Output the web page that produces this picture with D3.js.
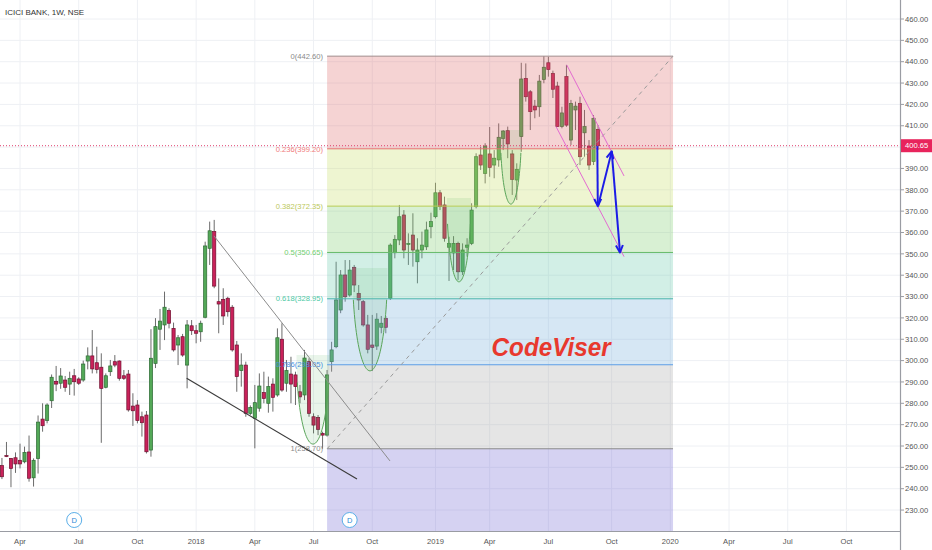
<!DOCTYPE html>
<html><head><meta charset="utf-8">
<script src="https://cdn.jsdelivr.net/npm/d3@7"></script>
<style>
html,body{margin:0;padding:0;background:#fff;}
svg{display:block;font-family:"Liberation Sans",Arial,sans-serif;}
</style></head><body>
<svg id="c" width="932" height="550"></svg>
<script>
// ---------- DATA ----------
const title = "ICICI BANK, 1W, NSE";
const firstWeek = "2017-03-06"; // weekly bars, Monday dated
const opens = [250.8,255.5,254.2,254.5,253.3,252.6,257.2,245.1,254.2,272.6,271.9,281.2,290.3,289.4,290.9,289.0,292.9,291.4,290.9,299.8,
302.2,299.0,296.9,287.5,294.8,299.5,299.8,292.9,293.7,278.7,279.2,273.7,274.5,258.1,298.7,314.7,316.7,323.4,315.1,307.3,
311.2,297.9,316.3,314.0,313.5,320.3,352.6,360.4,327.6,328.7,329.2,325.0,307.3,295.3,297.9,275.3,273.0,277.7,285.0,280.0,
289.0,283.9,310.0,289.4,293.7,293.3,285.4,283.9,299.5,273.7,273.4,265.9,265.1,299.5,306.5,323.7,340.1,330.7,343.7,331.5,
327.6,316.7,307.3,306.8,315.6,319.8,329.2,350.5,356.5,368.2,354.6,358.8,346.3,351.8,353.3,362.7,367.4,378.6,372.9,353.1,
350.4,354.9,341.6,353.1,354.9,372.1,396.3,387.7,396.8,391.6,394.0,404.1,407.7,396.8,384.6,404.9,432.2,425.9,419.2,418.9,
431.7,439.5,434.5,428.6,409.6,433.0,403.3,417.4,420.5,406.7,400.5,393.2,408.3];
const highs = [254.4,261.9,254.4,257.0,261.1,259.7,264.9,254.2,274.3,280.0,280.0,293.5,297.5,296.5,292.8,294.8,296.1,292.2,300.0,306.2,
314.3,306.5,303.4,294.0,300.3,302.6,300.1,295.6,295.6,284.7,281.5,276.1,276.4,314.7,319.9,324.2,332.3,324.5,317.8,312.0,
312.5,319.0,319.0,316.7,318.7,355.7,365.1,365.9,338.5,333.9,329.9,326.0,309.2,303.4,299.5,279.0,288.6,294.0,294.8,292.5,
291.7,315.1,317.5,300.3,301.8,294.8,288.6,305.0,301.1,275.3,274.5,266.7,295.6,308.8,346.3,342.4,347.1,347.1,344.8,335.4,
328.4,321.4,321.4,322.2,320.9,320.9,354.9,358.8,372.9,370.5,359.6,369.0,357.3,360.4,365.1,369.3,383.3,379.9,376.8,358.0,
358.3,355.7,354.9,357.3,373.7,397.1,400.2,401.8,409.4,398.6,411.1,408.0,409.6,398.6,392.4,439.5,439.2,426.7,422.1,433.8,
442.6,442.3,435.8,430.6,418.9,438.5,422.1,421.3,423.6,417.4,403.3,415.0,410.3];
const lows = [244.5,254.8,240.7,247.4,249.5,251.9,243.3,241.0,247.1,266.7,270.6,277.8,285.7,286.8,285.4,283.9,283.6,288.6,290.1,295.9,
294.0,294.0,261.5,287.0,292.8,296.9,290.6,290.9,276.1,269.4,270.6,264.4,256.5,255.0,296.5,305.0,309.6,315.1,304.2,297.9,
301.8,287.0,312.0,308.1,308.8,319.8,344.8,333.9,312.8,316.7,320.6,304.2,285.4,287.8,273.7,274.5,258.9,276.1,280.0,275.6,
276.1,283.1,285.4,285.4,280.0,279.2,280.0,281.5,273.7,265.9,265.1,258.7,264.4,294.8,305.8,322.2,327.6,329.9,332.1,323.7,
315.9,303.4,295.1,305.0,312.8,312.8,328.4,347.9,354.1,347.9,344.8,344.0,336.2,347.9,351.8,357.3,366.6,370.5,355.7,337.3,
342.4,337.8,340.1,348.7,354.1,371.3,389.3,383.0,386.1,385.4,390.8,398.6,394.8,377.6,375.2,397.8,421.3,408.0,413.5,414.2,
429.9,433.0,423.0,409.5,408.8,409.5,401.0,408.0,391.6,395.5,389.3,391.6,398.6];
const closes = [245.6,255.2,249.5,251.6,251.6,257.0,244.9,253.3,271.2,269.5,279.2,292.2,289.0,292.8,287.5,291.7,290.1,289.4,298.4,302.2,
296.1,295.9,287.0,292.9,297.5,297.9,291.7,291.7,276.9,276.5,271.9,270.9,257.3,301.1,315.9,318.5,325.0,317.5,305.0,310.7,
302.6,316.7,314.0,312.8,317.5,353.7,360.8,334.9,326.5,320.9,322.9,305.0,292.5,297.9,275.3,278.1,280.3,288.1,282.3,287.8,
282.8,310.7,286.2,295.3,289.0,287.8,283.0,301.2,275.3,269.8,267.8,265.1,293.3,305.0,328.4,340.1,329.9,342.4,335.4,328.4,
316.7,305.3,306.2,319.4,317.5,315.6,354.1,356.8,367.4,351.8,354.9,351.8,351.8,354.1,361.2,365.1,378.6,372.1,357.3,354.9,
354.9,341.6,351.8,354.1,370.5,395.5,391.6,400.5,390.5,394.8,404.6,407.5,401.5,384.9,389.6,431.9,423.6,416.6,417.4,430.9,
437.4,436.3,427.1,409.6,416.0,410.3,420.5,419.2,395.5,409.6,391.6,413.5,400.65];
const lastPrice = 400.65;
const priceTicks = d3.range(230, 461, 10);
const timeTickMonths = ["2017-04","2017-07","2017-10","2018-01","2018-04","2018-07","2018-10","2019-01","2019-04","2019-07","2019-10","2020-01","2020-04","2020-07","2020-10"];
const timeTickLabels = ["Apr","Jul","Oct","2018","Apr","Jul","Oct","2019","Apr","Jul","Oct","2020","Apr","Jul","Oct"];
const fibLevels = [0, 0.236, 0.382, 0.5, 0.618, 0.786, 1];
const fibPrices = [442.60, 399.20, 372.35, 350.65, 328.95, 298.05, 258.70];
const fibExtPrice = 145.05; // 1.618 level
const fibBarRange = [72, 148.6];        // bar positions of the fib box
const dividendBars = [16, 77];
// annotations: [bar, price]
const wedgeUpper = [[46.96, 358.4], [85.93, 253.0]];
const wedgeLower = [[40.9, 291.7], [78.62, 244.5]];
const channelUpper = [[125.06, 438.5], [137.75, 386.5]];
const channelLower = [[122.7, 409.6], [137.75, 348.7]];
const arrowPath1 = [[131.83, 400.65], [131.95, 372.35]];
const arrowPath2 = [[132.0, 372.35], [135.02, 398.0]];
const arrowPath3 = [[135.02, 398.0], [136.86, 350.65]];
const arcs = [ // center bar, center price, radius bars, radius price
  [68.88, 302.6, 3.65, 41.7],
  [81.5, 343.4, 3.88, 48.2],
  [101.2, 376.2, 2.66, 39.3],
  [112.7, 408.0, 2.33, 34.7]];
const watermark = {text: "CodeViser", bar: 121.6, price: 302.2};

// ---------- SCALES ----------
const WEEK = 7 * 864e5;
const t0 = Date.parse(firstWeek + "T00:00:00Z");
const dateAt = i => new Date(t0 + i * WEEK);
const plotR = 900, plotB = 531;
const x = d3.scaleTime().domain([dateAt(0), dateAt(200)]).range([1.94, 905.14]);
const y = d3.scaleLinear().domain([230, 460]).range([510.05, 19]);
const X = b => x(dateAt(b));

const svg = d3.select("#c");
svg.append("defs").append("clipPath").attr("id","plot").append("rect")
  .attr("x",0).attr("y",0).attr("width",plotR).attr("height",plotB);
const g = svg.append("g").attr("clip-path","url(#plot)");

// grid
const tickBars = timeTickMonths.map(m => {
  const [yy, mm] = m.split("-").map(Number);
  return Math.ceil((Date.UTC(yy, mm - 1, 1) - t0) / WEEK);
});
g.selectAll(".hg").data(priceTicks).join("line")
  .attr("x1",0).attr("x2",plotR).attr("y1",d=>y(d)).attr("y2",d=>y(d))
  .attr("stroke","#eef0f4").attr("stroke-width",1);
g.selectAll(".vg").data(tickBars).join("line")
  .attr("x1",d=>X(d)).attr("x2",d=>X(d)).attr("y1",0).attr("y2",plotB)
  .attr("stroke","#eef0f4").attr("stroke-width",1);

// candles
const bars = opens.map((o,i)=>({i, o, h:highs[i], l:lows[i], c:closes[i]}));
g.selectAll(".wick").data(bars).join("line")
  .attr("x1",d=>X(d.i)).attr("x2",d=>X(d.i)).attr("y1",d=>y(d.h)).attr("y2",d=>y(d.l))
  .attr("stroke","#6b6b6b").attr("stroke-width",1);
g.selectAll(".body").data(bars).join("rect")
  .attr("x",d=>X(d.i)-1.6).attr("width",3.2)
  .attr("y",d=>y(Math.max(d.o,d.c)))
  .attr("height",d=>Math.max(1,Math.abs(y(d.o)-y(d.c))))
  .attr("fill",d=>d.c>=d.o?"#53a857":"#c9215a")
  .attr("stroke",d=>d.c>=d.o?"#2d6a34":"#70102f").attr("stroke-width",0.7);

// fib fills (on top, translucent)
const fibFill = ["#de6c6c","#c6dd66","#7dcd6c","#69caac","#76afda","#a8a8a8","#7369d4"];
const fibLine = ["#a08c8c","#e57373","#b8cc55","#66bb6a","#4db6ac","#5c9ee6","#8a8a8a"];
const fibText = ["#8a8a8a","#ef7b7b","#bcc85a","#6fcf6f","#4cc9a5","#4a8fe0","#8a8a8a"];
const fx0 = X(fibBarRange[0]), fx1 = X(fibBarRange[1]);
const bands = fibPrices.map((p,k)=>[p, k<fibPrices.length-1 ? fibPrices[k+1] : fibExtPrice]);
g.selectAll(".fb").data(bands).join("rect")
  .attr("x",fx0).attr("width",fx1-fx0)
  .attr("y",d=>y(d[0])).attr("height",d=>y(d[1])-y(d[0]))
  .attr("fill",(d,k)=>fibFill[k]).attr("fill-opacity",0.3);

// arcs
arcs.forEach(a=>{
  const [cb, cp, rb, rp] = a;
  const pt = t => [X(cb + rb*Math.cos(t)), y(cp - rp*Math.sin(t))];
  const full = d3.range(0, 61).map(k=>pt(Math.PI * k / 60));
  g.append("path").attr("d", d3.line()(full) + "Z")
    .attr("fill","#4caf50").attr("fill-opacity",0.12).attr("stroke","none");
  const curve = d3.range(6, 55).map(k=>pt(Math.PI * k / 60));
  g.append("path").attr("d", d3.line()(curve)).attr("fill","none")
    .attr("stroke","#5aa55a").attr("stroke-width",1);
});

// fib lines
g.selectAll(".fl").data(fibPrices).join("line")
  .attr("x1",fx0).attr("x2",fx1).attr("y1",d=>y(d)).attr("y2",d=>y(d))
  .attr("stroke",(d,k)=>fibLine[k]).attr("stroke-width",1);
// diagonal dashed trend line of fib
g.append("line").attr("x1",fx0).attr("y1",y(fibPrices[6])).attr("x2",fx1).attr("y2",y(fibPrices[0]))
  .attr("stroke","#9a9a9a").attr("stroke-dasharray","4,4").attr("stroke-width",1);
// fib labels
g.selectAll(".ft").data(fibPrices).join("text")
  .attr("x",fx0-4).attr("y",d=>y(d)+2.7).attr("text-anchor","end")
  .attr("font-size",7.6).attr("fill",(d,k)=>fibText[k])
  .text((d,k)=>`${fibLevels[k]}(${d.toFixed(2)})`);

// wedge lines
const seg = (pts, color, w) => g.append("line")
  .attr("x1",X(pts[0][0])).attr("y1",y(pts[0][1])).attr("x2",X(pts[1][0])).attr("y2",y(pts[1][1]))
  .attr("stroke",color).attr("stroke-width",w);
seg(wedgeUpper, "#8c8c8c", 1);
seg(wedgeLower, "#3c3c3c", 1.2);
seg(channelUpper, "#e36ad0", 1);
seg(channelLower, "#e36ad0", 1);

// arrows
function arrow(pts){
  const x1=X(pts[0][0]), y1=y(pts[0][1]), x2=X(pts[1][0]), y2=y(pts[1][1]);
  g.append("line").attr("x1",x1).attr("y1",y1).attr("x2",x2).attr("y2",y2)
    .attr("stroke","#1c1ce6").attr("stroke-width",2);
  const ang = Math.atan2(y2-y1, x2-x1), L = 8, s = 0.45;
  const p = [[x2 - L*Math.cos(ang-s), y2 - L*Math.sin(ang-s)],[x2,y2],[x2 - L*Math.cos(ang+s), y2 - L*Math.sin(ang+s)]];
  g.append("path").attr("d",d3.line()(p)).attr("fill","none")
    .attr("stroke","#1c1ce6").attr("stroke-width",2).attr("stroke-linejoin","round");
}
arrow(arrowPath1); arrow(arrowPath2); arrow(arrowPath3);

// current price line
g.append("line").attr("x1",0).attr("x2",plotR).attr("y1",y(lastPrice)).attr("y2",y(lastPrice))
  .attr("stroke","#e0406e").attr("stroke-width",1).attr("stroke-dasharray","1,2");

// watermark text
g.append("text").attr("x",X(watermark.bar)).attr("y",y(watermark.price))
  .attr("text-anchor","middle").attr("font-size",26).attr("font-weight","bold").attr("font-style","italic")
  .attr("textLength",119).attr("lengthAdjust","spacingAndGlyphs")
  .attr("fill","#e8392e").text(watermark.text);

// dividend markers
const dm = svg.append("g");
dividendBars.forEach(b=>{
  dm.append("circle").attr("cx",X(b)).attr("cy",520).attr("r",7.5)
    .attr("fill","#fff").attr("stroke","#5aaee8").attr("stroke-width",1);
  dm.append("text").attr("x",X(b)).attr("y",522.6).attr("text-anchor","middle")
    .attr("font-size",7.5).attr("fill","#2d8ad6").text("D");
});

// axes
svg.append("line").attr("x1",0).attr("x2",plotR).attr("y1",plotB+0.5).attr("y2",plotB+0.5)
  .attr("stroke","#9a9ca3").attr("stroke-width",1);
svg.append("line").attr("x1",plotR+0.5).attr("x2",plotR+0.5).attr("y1",0).attr("y2",550)
  .attr("stroke","#9a9ca3").attr("stroke-width",1.2);
svg.selectAll(".pt").data(priceTicks).join("line")
  .attr("x1",plotR+1).attr("x2",plotR+4).attr("y1",d=>y(d)).attr("y2",d=>y(d))
  .attr("stroke","#9a9ca3");
svg.selectAll(".pl").data(priceTicks).join("text")
  .attr("x",905).attr("y",d=>y(d)+2.7).attr("font-size",7.6).attr("fill","#555")
  .text(d=>d.toFixed(2));
svg.selectAll(".tl").data(tickBars).join("text")
  .attr("x",d=>X(d)).attr("y",544).attr("text-anchor","middle").attr("font-size",7.6).attr("fill","#555")
  .text((d,k)=>timeTickLabels[k]);
// last price label
svg.append("rect").attr("x",plotR+1).attr("width",31).attr("y",y(lastPrice)-6.5).attr("height",13)
  .attr("fill","#e8245c");
svg.append("text").attr("x",905).attr("y",y(lastPrice)+2.7).attr("font-size",7.6).attr("fill","#fff")
  .text(lastPrice.toFixed(2));

// title
svg.append("text").attr("x",5).attr("y",15).attr("font-size",8).attr("fill","#333").text(title);
</script>
</body></html>
